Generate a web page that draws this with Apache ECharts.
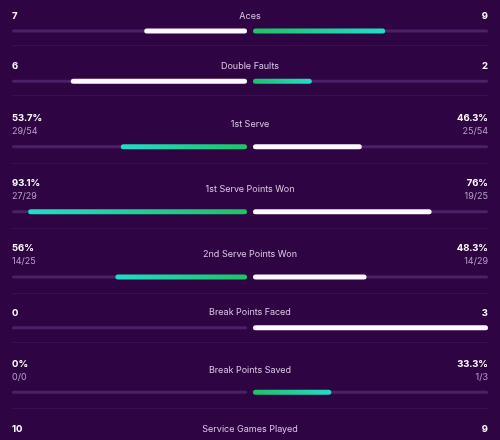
<!DOCTYPE html>
<html>
<head>
<meta charset="utf-8">
<script src="https://cdn.jsdelivr.net/npm/echarts@6/dist/echarts.min.js"></script>
<style>
  html, body { margin: 0; padding: 0; background: #2f0442; }
  #chart { width: 500px; height: 440px; }
</style>
</head>
<body>
<div id="chart"></div>
<script>
// match stats, player on the left vs player on the right
const statNames = ['Aces', 'Double Faults', '1st Serve', '1st Serve Points Won', '2nd Serve Points Won', 'Break Points Faced', 'Break Points Saved', 'Service Games Played'];
const leftValues = [7, 6, 53.7, 93.1, 56, 0, 0, 10];
const rightValues = [9, 2, 46.3, 76, 48.3, 3, 33.3, 9];
const leftLabels = ['7', '6', '53.7%', '93.1%', '56%', '0', '0%', '10'];
const rightLabels = ['9', '2', '46.3%', '76%', '48.3%', '3', '33.3%', '9'];
const leftFractions = ['', '', '29/54', '27/29', '14/25', '', '0/0', ''];
const rightFractions = ['', '', '25/54', '19/25', '14/29', '', '1/3', ''];
const isPercent = [false, false, true, true, true, false, true, false];
const betterSide = ['right', 'right', 'left', 'left', 'left', 'left', 'right', 'left'];

// layout (bar centre of each row, last one falls below the frame)
const barY = [31, 81.3, 146.7, 211.7, 277, 327.7, 392.3, 444];
const X0 = 12, X1 = 488, HALF = 235;

const BG = '#2f0442';
const TRACK = '#4b2066';
const SEP = '#3c0e52';
const GREEN = '#1fc266';
const TEAL = '#22dcc8';
const WHITE = '#fdf8ff';

function barColor(side, row) {
    if (betterSide[row] !== side) return WHITE;
    // green near the centre, teal at the outer end
    return side === 'left'
        ? new echarts.graphic.LinearGradient(0, 0, 1, 0, [{ offset: 0, color: TEAL }, { offset: 1, color: GREEN }])
        : new echarts.graphic.LinearGradient(0, 0, 1, 0, [{ offset: 0, color: GREEN }, { offset: 1, color: TEAL }]);
}

const grids = [], xAxes = [], yAxes = [], series = [], graphics = [];

statNames.forEach(function (name, i) {
    const max = isPercent[i] ? 100 : (leftValues[i] + rightValues[i]);
    const y = barY[i];
    ['left', 'right'].forEach(function (side) {
        const g = grids.length;
        grids.push({
            left: side === 'left' ? X0 : X1 - HALF,
            width: HALF,
            top: y - 4,
            height: 8
        });
        xAxes.push({ type: 'value', gridIndex: g, min: 0, max: max, inverse: side === 'left', show: false });
        const yTrack = yAxes.length;
        yAxes.push({ type: 'category', gridIndex: g, data: [name], show: false });
        const yVal = yAxes.length;
        yAxes.push({ type: 'category', gridIndex: g, data: [name], show: false });
        series.push({
            type: 'bar', xAxisIndex: g, yAxisIndex: yTrack, silent: true,
            data: [max], barWidth: 3,
            itemStyle: { color: TRACK, borderRadius: 1.5 }
        });
        const v = side === 'left' ? leftValues[i] : rightValues[i];
        series.push({
            type: 'bar', xAxisIndex: g, yAxisIndex: yVal, silent: true,
            data: [v], barWidth: 5,
            itemStyle: { color: barColor(side, i), borderRadius: 2.5 }
        });
    });

    const numStyle = { fill: '#ffffff', font: 'bold 9.5px Inter', textVerticalAlign: 'middle' };
    const fracStyle = { fill: '#b8a3c9', font: '9px Inter', textVerticalAlign: 'middle' };
    const topY = isPercent[i] ? y - 28.6 : y - 15;
    const titleY = isPercent[i] ? y - 22.3 : y - 15;
    graphics.push({ type: 'text', x: X0, y: topY, style: Object.assign({ text: leftLabels[i], textAlign: 'left' }, numStyle) });
    graphics.push({ type: 'text', x: X1, y: topY, style: Object.assign({ text: rightLabels[i], textAlign: 'right' }, numStyle) });
    graphics.push({ type: 'text', x: 250, y: titleY, style: { text: name, textAlign: 'center', textVerticalAlign: 'middle', fill: '#d9c8e6', font: '9px Inter' } });
    if (isPercent[i]) {
        graphics.push({ type: 'text', x: X0, y: y - 15.3, style: Object.assign({ text: leftFractions[i], textAlign: 'left' }, fracStyle) });
        graphics.push({ type: 'text', x: X1, y: y - 15.3, style: Object.assign({ text: rightFractions[i], textAlign: 'right' }, fracStyle) });
    }
    const sepY = Math.round(y + (isPercent[i] ? 16 : 14)) + 0.5;
    graphics.push({ type: 'line', shape: { x1: X0, y1: sepY, x2: X1, y2: sepY }, style: { stroke: SEP, lineWidth: 1 } });
});

const chart = echarts.init(document.getElementById('chart'));
chart.setOption({
    backgroundColor: BG,
    animation: false,
    grid: grids,
    xAxis: xAxes,
    yAxis: yAxes,
    series: series,
    graphic: graphics
});
</script>
</body>
</html>
